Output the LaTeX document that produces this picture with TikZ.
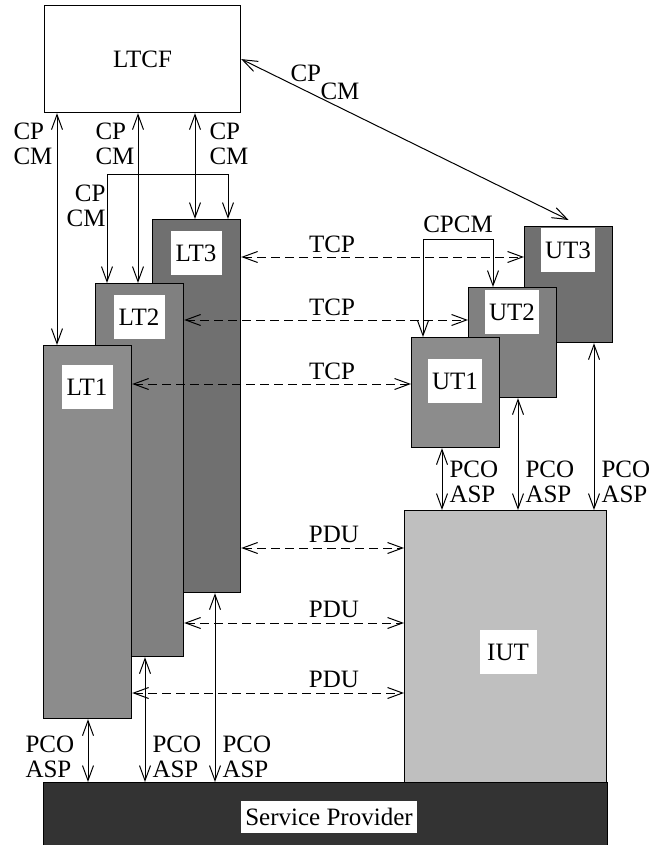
\documentclass[tikz,border=0pt]{standalone}
\usepackage{fontspec}
\setmainfont{Liberation Serif}
\usetikzlibrary{arrows.meta}

\begin{document}
\begin{tikzpicture}[x=1pt,y=-1pt,font=\fontsize{25}{25}\selectfont,line width=1pt,>={Straight Barb[length=15pt,width=11pt]},
  box/.style={draw,line width=1.2pt,inner sep=0,anchor=north west},
  lab/.style={fill=white,minimum height=44pt,minimum width=51pt,inner xsep=4pt},
  txt/.style={align=left,inner sep=0,anchor=north west},
  dsh/.style={<->,dash pattern=on 9pt off 5pt}]
\useasboundingbox (0,0) rectangle (650,845);
\node[box,minimum width=196pt,minimum height=107pt] (ltcf) at (44,5) {LTCF};
\foreach \i/\x/\y/\g/\ly in {3/152/219/56/253,2/95/283/50/317,1/43/345/45/387}{\node[box,fill=black!\g,minimum width=88pt,minimum height=373pt] (lt\i) at (\x,\y) {};\node[lab] (ltn\i) at (\x+44,\ly) {LT\i};}
\foreach \i/\x/\y/\h/\g/\ly in {3/524/226/116/56/250,2/468/287/110/50/312,1/411/337/110/45/381}{\node[box,fill=black!\g,minimum width=88pt,minimum height=\h pt] (ut\i) at (\x,\y) {};\node[lab] (utn\i) at (\x+44,\ly) {UT\i};}
\node[box,fill=black!25,minimum width=202pt,minimum height=272pt] (iut) at (404,510) {};\node[lab,minimum width=57pt] (iutn) at (508,652) {IUT};
\node[box,fill=black!80,minimum width=564pt,minimum height=63pt] (sp) at (43,782) {};\node[lab,minimum height=32pt] (spn) at (329,817) {Service Provider};
\foreach \i/\x/\lx in {1/57/13,2/138/95,3/195/209}{\coordinate (c\i) at (\x,0);\draw[<->] (ltcf.south-|c\i) -- (lt\i.north-|c\i);\node[txt] (cpc\i) at (\lx,122) {CP\\CM};}
\coordinate (bk1) at (107,175);\coordinate (bk2) at (228,175);\draw[<->] (lt2.north-|bk1) -- (bk1) -- (bk2) -- (lt3.north-|bk2);\node[txt,align=right,anchor=north east] (cpcb) at (106,184) {CP\\CM};
\draw[<->] (ltcf.east) -- ([yshift=6pt]ut3.north);\node[anchor=base west,inner sep=0] (dcp) at (290,82) {CP};\node[anchor=base west,inner sep=0] (dcm) at (320,100) {CM};
\coordinate (ub1) at (423,239);\coordinate (ub2) at (493,239);\draw[<->] (ut1.north-|ub1) -- (ub1) -- (ub2) -- (ut2.north-|ub2);\node[anchor=base,inner sep=0] (cpcm) at (458,232) {CPCM};
\foreach \i/\y in {1/384,2/320,3/257}{\coordinate (t\i) at (0,\y);\draw[dsh] (lt\i.east|-t\i) -- (ut\i.west|-t\i);\node[anchor=base,inner sep=0] (tcp\i) at (332,\y-5) {TCP};}
\foreach \i/\y in {1/693,2/623,3/548}{\coordinate (d\i) at (0,\y);\draw[dsh] (lt\i.east|-d\i) -- (iut.west|-d\i);\node[anchor=base,inner sep=0] (pdu\i) at (334,\y-6) {PDU};}
\foreach \i/\x/\lx in {1/88/25,2/145/152,3/215/222}{\coordinate (p\i) at (\x,0);\draw[<->] (lt\i.south-|p\i) -- (sp.north-|p\i);\node[txt] (pco\i) at (\lx,735) {PCO\\ASP};}
\foreach \i/\x in {1/442,2/518,3/594}{\coordinate (q\i) at (\x,0);\draw[<->] (ut\i.south-|q\i) -- (iut.north-|q\i);\node[txt] (upco\i) at (\x+7,460) {PCO\\ASP};}
\end{tikzpicture}
\end{document}
